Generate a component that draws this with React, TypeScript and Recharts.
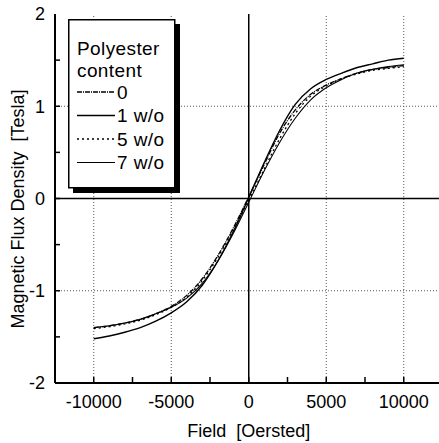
import { LineChart, Line, XAxis, YAxis, ReferenceLine } from 'recharts';

const fieldOe = [-10000, -9000, -8000, -7000, -6000, -5000, -4000, -3000, -2000, -1000, 0, 1000, 2000, 3000, 4000, 5000, 6000, 7000, 8000, 9000, 10000];

const flux0 = [-1.40, -1.38, -1.35, -1.31, -1.25, -1.17, -1.05, -0.87, -0.62, -0.32, 0.02, 0.37, 0.71, 0.96, 1.13, 1.23, 1.30, 1.36, 1.40, 1.42, 1.44];
const flux1 = [-1.52, -1.49, -1.45, -1.40, -1.33, -1.24, -1.12, -0.94, -0.68, -0.36, 0.01, 0.39, 0.74, 1.02, 1.19, 1.29, 1.36, 1.42, 1.46, 1.50, 1.52];
const flux5 = [-1.41, -1.39, -1.36, -1.32, -1.26, -1.18, -1.07, -0.89, -0.64, -0.34, -0.02, 0.32, 0.65, 0.92, 1.11, 1.22, 1.30, 1.35, 1.39, 1.41, 1.43];
const flux7 = [-1.40, -1.38, -1.35, -1.31, -1.25, -1.18, -1.08, -0.92, -0.68, -0.38, -0.04, 0.30, 0.61, 0.87, 1.07, 1.20, 1.29, 1.36, 1.40, 1.43, 1.45];

const xTicks = [-10000, -7500, -5000, -2500, 0, 2500, 5000, 7500, 10000];
const yTicks = [-2, -1.5, -1, -0.5, 0, 0.5, 1, 1.5, 2];
const xGrid = [-10000, -5000, 5000, 10000];
const yGrid = [-1, 1];

const series = [
    { key: 'c0', name: '0', dash: '5 1 1 1', width: 1.3 },
    { key: 'c1', name: '1 w/o', dash: undefined, width: 1.4 },
    { key: 'c5', name: '5 w/o', dash: '2 3', width: 1.3 },
    { key: 'c7', name: '7 w/o', dash: undefined, width: 1.1 },
];

const data = fieldOe.map((f, i) => ({
    field: f,
    c0: flux0[i],
    c1: flux1[i],
    c5: flux5[i],
    c7: flux7[i],
}));

const FONT = '"Liberation Sans", Arial, sans-serif';

// y ticks point into the plot, labels only on whole numbers
const YTick = (props: any) => {
    const { x, y, payload } = props;
    const major = Number.isInteger(payload.value);
    return (
        <g>
            {payload.value !== 2 && payload.value !== -2 && (
                <line x1={x + 10} x2={x + 15} y1={y} y2={y} stroke="#000" strokeWidth={1.5} />
            )}
            {major && (
                <text x={x} y={y} dy="0.36em" textAnchor="end" fontSize={18} fontFamily={FONT} fill="#000">
                    {payload.value}
                </text>
            )}
        </g>
    );
};

const XTick = (props: any) => {
    const { x, y, payload } = props;
    const major = Math.abs(payload.value) % 5000 === 0;
    return (
        <g>
            <line x1={x} x2={x} y1={y - 12} y2={y - 18} stroke="#000" strokeWidth={1.5} />
            {major && (
                <text x={x} y={y} dy="0.71em" textAnchor="middle" fontSize={18} fontFamily={FONT} fill="#000">
                    {payload.value}
                </text>
            )}
        </g>
    );
};

// boxed legend with a drop shadow, sits over the upper-left of the plot
const LegendBox = () => (
    <svg width={114} height={176} style={{ position: 'absolute', left: 68, top: 19, display: 'block' }}>
        <rect x={5} y={5} width={107} height={169} fill="#000" />
        <rect x={0.75} y={0.75} width={106} height={168} fill="#fff" stroke="#000" strokeWidth={1.5} />
        <text x={9} y={29} dy="0.36em" fontSize={19} fontFamily={FONT} fill="#000" letterSpacing={0.4}>Polyester</text>
        <text x={9} y={51} dy="0.36em" fontSize={19} fontFamily={FONT} fill="#000" letterSpacing={0.4}>content</text>
        {series.map((s, i) => {
            const cy = 73 + i * 23.5;
            return (
                <g key={s.key}>
                    <line x1={9} x2={47} y1={cy} y2={cy} stroke="#000" strokeWidth={s.width} strokeDasharray={s.dash} />
                    <text x={49} y={cy} dy="0.36em" fontSize={19} fontFamily={FONT} fill="#000" letterSpacing={0.4}>{s.name}</text>
                </g>
            );
        })}
    </svg>
);

export default function App() {
    return (
        <div style={{ position: 'absolute', left: 0, top: 0, width: 439, height: 443, overflow: 'hidden', background: '#fff' }}>
            <LineChart width={450} height={443} data={data} margin={{ top: 14, right: 7.5, bottom: 0, left: 0 }}>
                <XAxis
                    dataKey="field"
                    type="number"
                    domain={[-12500, 12500]}
                    ticks={xTicks}
                    interval={0}
                    allowDataOverflow
                    height={60}
                    tickSize={0}
                    tickMargin={12}
                    tick={<XTick />}
                    axisLine={{ stroke: '#000', strokeWidth: 2 }}
                    label={{ value: 'Field\u00a0 [Oersted]', position: 'insideBottom', offset: 6, fontSize: 18, fontFamily: FONT, fill: '#000' }}
                />
                <XAxis xAxisId="top" orientation="top" type="number" domain={[-12500, 12500]} height={0} tick={false} tickLine={false} axisLine={{ stroke: '#000', strokeWidth: 2 }} />
                <YAxis
                    type="number"
                    domain={[-2, 2]}
                    ticks={yTicks}
                    interval={0}
                    width={55}
                    tickSize={0}
                    tickMargin={10}
                    tick={<YTick />}
                    axisLine={{ stroke: '#000', strokeWidth: 2 }}
                    label={{
                        content: () => (
                            <text x={23.5} y={209} transform="rotate(-90 23.5 209)" textAnchor="middle" fontSize={18} fontFamily={FONT} fill="#000">
                                {'Magnetic Flux Density\u00a0 [Tesla]'}
                            </text>
                        ),
                    }}
                />

                {/* dotted grid */}
                {xGrid.map((v) => (
                    <ReferenceLine key={'gx' + v} x={v} stroke="#555" strokeDasharray="1 2" />
                ))}
                {yGrid.map((v) => (
                    <ReferenceLine key={'gy' + v} y={v} stroke="#555" strokeDasharray="1 2" />
                ))}
                <ReferenceLine x={0} stroke="#000" strokeWidth={1.5} />
                <ReferenceLine y={0} stroke="#000" strokeWidth={1.5} />

                {series.map((s) => (
                    <Line
                        key={s.key}
                        dataKey={s.key}
                        name={s.name}
                        type="monotone"
                        stroke="#000"
                        strokeWidth={s.width}
                        strokeDasharray={s.dash}
                        dot={false}
                        isAnimationActive={false}
                    />
                ))}
            </LineChart>
            <LegendBox />
        </div>
    );
}
